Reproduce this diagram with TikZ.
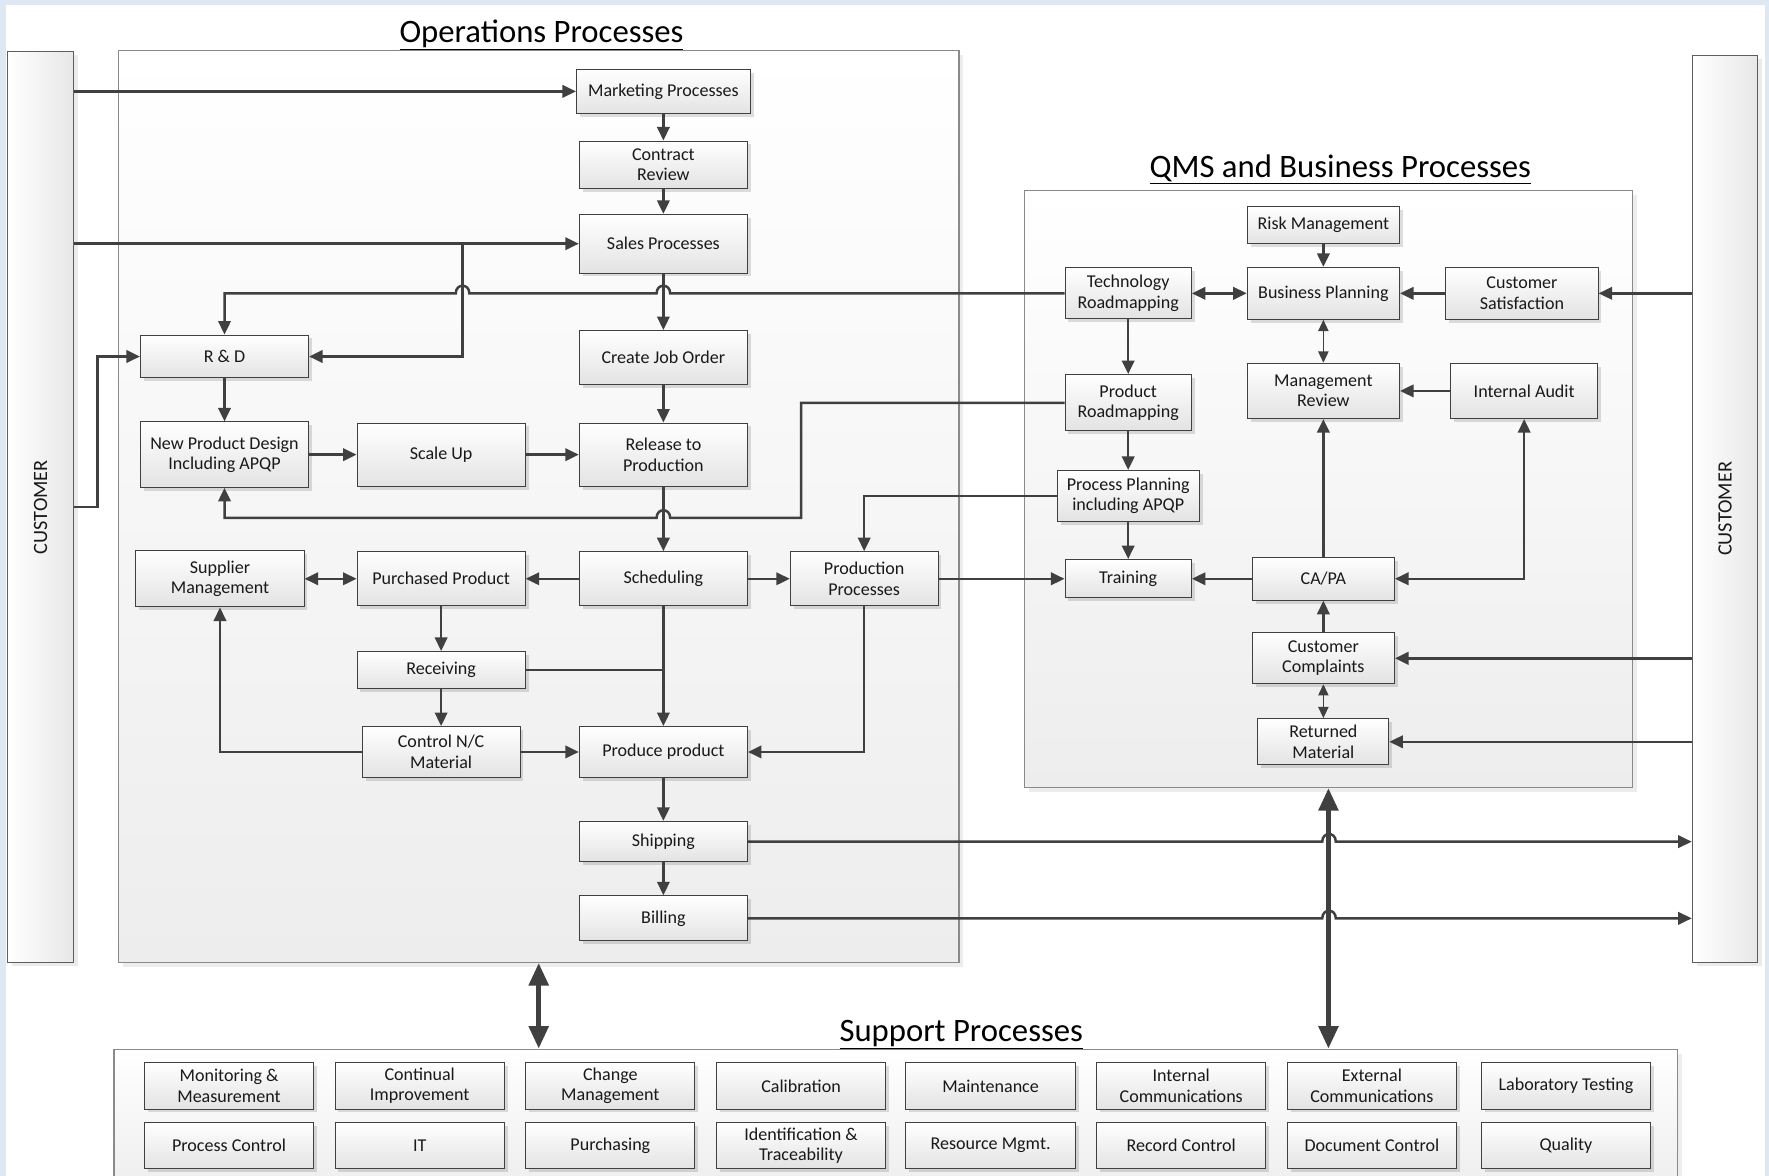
\documentclass[tikz,border=0pt]{standalone}
\usepackage{fontspec}
\setmainfont{Carlito}
\usetikzlibrary{arrows.meta,shadows}
\definecolor{ink}{HTML}{404040}
\definecolor{frame}{HTML}{8A8A8A}
\definecolor{boxbot}{HTML}{E3E3E3}
\definecolor{panelbot}{HTML}{EDEDED}
\definecolor{edge}{HTML}{DDE8F2}
\begin{document}
\begin{tikzpicture}[x=1pt,y=-1pt,
  proc/.style={draw=ink, line width=0.9pt, top color=white, bottom color=boxbot,
    align=center, inner sep=0pt, font=\fontsize{16}{18}\selectfont, text=black!90,
    drop shadow={shadow xshift=3pt, shadow yshift=-3pt, fill=black, opacity=0.13}},
  sz/.style 2 args={minimum width=#1pt, minimum height=#2pt},
  panel/.style={draw=frame, line width=1.1pt, top color=white, bottom color=panelbot, inner sep=0pt,
    drop shadow={shadow xshift=4pt, shadow yshift=-4pt, fill=black, opacity=0.07}},
  custbar/.style={draw=ink!85, line width=1pt, left color=white, right color=boxbot!85, inner sep=0pt,
    drop shadow={shadow xshift=4pt, shadow yshift=-3pt, fill=black, opacity=0.08}},
  ptitle/.style={font=\fontsize{29}{34}\selectfont, text=black},
  custlabel/.style={rotate=90, font=\fontsize{18}{20}\selectfont, text=black!90},
  conn/.style={draw=ink, line width=2.2pt},
  arr/.style={conn, -{Triangle[length=12pt,width=11pt]}},
  darr/.style={conn, {Triangle[length=12pt,width=11pt]}-{Triangle[length=12pt,width=11pt]}},
  thindarr/.style={draw=ink, line width=1.5pt, {Triangle[length=10pt,width=9pt]}-{Triangle[length=10pt,width=9pt]}},
  bigdarr/.style={draw=ink, line width=4.5pt, {Triangle[length=20pt,width=17pt]}-{Triangle[length=20pt,width=17pt]}},
]
\path[use as bounding box] (0,0) rectangle (1568,1042);
\clip (0,0) rectangle (1568,1042);
\fill[edge] (0,0) rectangle (1568,1042);
\fill[white] (5,4) rectangle (1564,1042);

% customer bars
\node[custbar, sz={58}{807}] (custL) at (36,449.5) {};
\node[custlabel] at (custL.center) {CUSTOMER};
\node[custbar, sz={58}{804}] (custR) at (1529,451) {};
\node[custlabel] at (custR.center) {CUSTOMER};

% process groups
\node[panel, sz={745}{808}] (OP) at (477.5,449) {};
\node[panel, sz={539}{529}] (QMS) at (1177.5,433.5) {};
\node[panel, sz={1386}{130}] (SUP) at (794,995) {};

\node[ptitle] at (480,31) {\underline{Operations Processes}};
\node[ptitle] at (1188,150) {\underline{QMS and Business Processes}};
\node[ptitle] at (852,917) {\underline{Support Processes}};

% operations
\node[proc, sz={154}{39}] (MK) at (588,81) {Marketing Processes};
\node[proc, sz={149}{42}] (CR) at (588,146) {Contract\\Review};
\node[proc, sz={149}{52}] (SP) at (588,216) {Sales Processes};
\node[proc, sz={149}{48}] (CJ) at (588,317) {Create Job Order};
\node[proc, sz={149}{56}] (RL) at (588,403) {Release to\\Production};
\node[proc, sz={149}{38}] (RD) at (199,316) {R \& D};
\node[proc, sz={149}{58}] (NPD) at (199,403) {New Product Design\\Including APQP};
\node[proc, sz={149}{56}] (SU) at (391,403) {Scale Up};
\node[proc, sz={149}{50}] (SM) at (195,513) {Supplier\\Management};
\node[proc, sz={149}{48}] (PU) at (391,513) {Purchased Product};
\node[proc, sz={149}{48}] (SC) at (588,513) {Scheduling};
\node[proc, sz={131}{48}] (PPr) at (766,513) {Production\\Processes};
\node[proc, sz={149}{33}] (RC) at (391,594) {Receiving};
\node[proc, sz={140}{45}] (CN) at (391,666.5) {Control N/C\\Material};
\node[proc, sz={149}{45}] (PD) at (588,666.5) {Produce product};
\node[proc, sz={149}{36}] (SH) at (588,746) {Shipping};
\node[proc, sz={149}{40}] (BI) at (588,814) {Billing};

% QMS and business
\node[proc, sz={135}{33}] (RM) at (1173,199.5) {Risk Management};
\node[proc, sz={112}{45}] (TRM) at (1000,260) {Technology\\Roadmapping};
\node[proc, sz={135}{46}] (BP) at (1173,260) {Business Planning};
\node[proc, sz={135}{46}] (CS) at (1349,260) {Customer\\Satisfaction};
\node[proc, sz={112}{50}] (PRM) at (1000,357) {Product\\Roadmapping};
\node[proc, sz={135}{49}] (MR) at (1173,346.5) {Management\\Review};
\node[proc, sz={130}{49}] (IA) at (1351,346.5) {Internal Audit};
\node[proc, sz={126}{45}] (PPL) at (1000,439.5) {Process Planning\\including APQP};
\node[proc, sz={112}{34}] (TR) at (1000,513) {Training};
\node[proc, sz={126}{38}] (CA) at (1173,513) {CA/PA};
\node[proc, sz={126}{45}] (CC) at (1173,583.5) {Customer\\Complaints};
\node[proc, sz={116}{41}] (RMa) at (1173,657.5) {Returned\\Material};

% support
\node[proc, sz={150}{41}] (s1) at (203,962.5) {Monitoring \&\\Measurement};
\node[proc, sz={150}{41}] (s2) at (372,962.5) {Continual\\Improvement};
\node[proc, sz={150}{41}] (s3) at (541,962.5) {Change\\Management};
\node[proc, sz={150}{41}] (s4) at (710,962.5) {Calibration};
\node[proc, sz={150}{41}] (s5) at (878,962.5) {Maintenance};
\node[proc, sz={150}{41}] (s6) at (1047,962.5) {Internal\\Communications};
\node[proc, sz={150}{41}] (s7) at (1216,962.5) {External\\Communications};
\node[proc, sz={150}{41}] (s8) at (1388,962.5) {Laboratory Testing};
\node[proc, sz={150}{41}] (s9) at (203,1015.5) {Process Control};
\node[proc, sz={150}{41}] (s10) at (372,1015.5) {IT};
\node[proc, sz={150}{41}] (s11) at (541,1015.5) {Purchasing};
\node[proc, sz={150}{41}] (s12) at (710,1015.5) {Identification \&\\Traceability};
\node[proc, sz={150}{41}] (s13) at (878,1015.5) {Resource Mgmt.};
\node[proc, sz={150}{41}] (s14) at (1047,1015.5) {Record Control};
\node[proc, sz={150}{41}] (s15) at (1216,1015.5) {Document Control};
\node[proc, sz={150}{41}] (s16) at (1388,1015.5) {Quality};

% customer inputs
\draw[arr] (custL.east |- MK.west) -- (MK.west);
\draw[arr] (custL.east |- SP.west) -- (SP.west);
\draw[arr] (410,216) |- (RD.east);
\draw[arr] (custL.east) -- ++(21,0) |- (RD.west);

% operations flow
\draw[arr] (MK.south) -- (CR.north);
\draw[arr] (CR.south) -- (SP.north);
\draw[arr] (SP.south) -- (CJ.north);
\draw[arr] (RD.south) -- (NPD.north);
\draw[arr] (NPD.east) -- (SU.west);
\draw[arr] (SU.east) -- (RL.west);
\draw[arr] (CJ.south) -- (RL.north);
\draw[arr] (RL.south) -- (SC.north);
\draw[arr] (SC.west) -- (PU.east);
\draw[arr] (SC.east) -- (PPr.west);
\draw[darr] (SM.east) -- (PU.west);
\draw[arr] (PU.south) -- (RC.north);
\draw[arr] (RC.south) -- (CN.north);
\draw[conn] (RC.east) -- (RC.east -| SC.south);
\draw[arr] (SC.south) -- (PD.north);
\draw[arr] (CN.west) -| (SM.south);
\draw[arr] (CN.east) -- (PD.west);
\draw[arr] (PPr.south) |- (PD.east);
\draw[arr] (PD.south) -- (SH.north);
\draw[arr] (SH.south) -- (BI.north);
\draw[arr] (PPr.east) -- (TR.west);

% planning links from QMS into operations (with line hops)
\draw[arr] (TRM.west) -- (594,260) .. controls (594,251) and (582,251) .. (582,260)
  -- (416,260) .. controls (416,251) and (404,251) .. (404,260) -| (RD.north);
\draw[arr] (PRM.west) -- (710,357) -- (710,459) -- (594,459)
  .. controls (594,450) and (582,450) .. (582,459) -| (NPD.south);
\draw[arr] (PPL.west) -| (PPr.north);

% deliveries to customer
\draw[arr] (SH.east) -- (1172,746) .. controls (1172,737) and (1184,737) .. (1184,746) -- (custR.west |- SH.east);
\draw[arr] (BI.east) -- (1172,814) .. controls (1172,805) and (1184,805) .. (1184,814) -- (custR.west |- BI.east);

% QMS flow
\draw[arr] (RM.south) -- (BP.north);
\draw[darr] (TRM.east) -- (BP.west);
\draw[arr] (CS.west) -- (BP.east);
\draw[arr] (custR.west |- CS.east) -- (CS.east);
\draw[thindarr] (BP.south) -- (MR.north);
\draw[arr] (IA.west) -- (MR.east);
\draw[arr] (TRM.south) -- (PRM.north);
\draw[arr] (PRM.south) -- (PPL.north);
\draw[arr] (PPL.south) -- (TR.north);
\draw[arr] (CA.west) -- (TR.east);
\draw[arr] (CA.north) -- (MR.south);
\draw[darr] (IA.south) |- (CA.east);
\draw[arr] (CC.north) -- (CA.south);
\draw[arr] (custR.west |- CC.east) -- (CC.east);
\draw[thindarr] (CC.south) -- (RMa.north);
\draw[arr] (custR.west |- RMa.east) -- (RMa.east);

% links to support processes
\draw[bigdarr] (OP.south) -- (OP.south |- SUP.north);
\draw[bigdarr] (QMS.south) -- (QMS.south |- SUP.north);
\end{tikzpicture}
\end{document}
